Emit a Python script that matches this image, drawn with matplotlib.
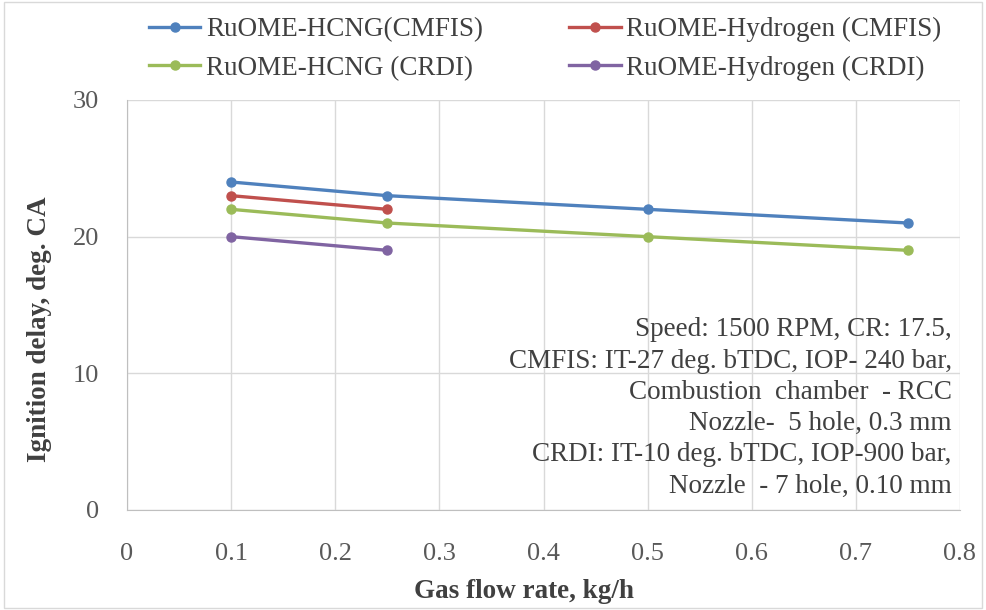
import numpy as np
import matplotlib.pyplot as plt
from matplotlib.patches import Rectangle

# data
x_long = [0.1, 0.25, 0.5, 0.75]
x_short = [0.1, 0.25]
hcng_cmfis = [24, 23, 22, 21]
hydrogen_cmfis = [23, 22]
hcng_crdi = [22, 21, 20, 19]
hydrogen_crdi = [20, 19]

labels = ['RuOME-HCNG(CMFIS)', 'RuOME-Hydrogen (CMFIS)',
          'RuOME-HCNG (CRDI)', 'RuOME-Hydrogen (CRDI)']
colors = ['#4F81BD', '#C0504D', '#9BBB59', '#8064A2']

note = ("Speed: 1500 RPM, CR: 17.5,\n"
        "CMFIS: IT-27 deg. bTDC, IOP- 240 bar,\n"
        "Combustion  chamber  - RCC\n"
        "Nozzle-  5 hole, 0.3 mm\n"
        "CRDI: IT-10 deg. bTDC, IOP-900 bar,\n"
        "Nozzle  - 7 hole, 0.10 mm")

plt.rcParams['font.family'] = ['Liberation Serif', 'DejaVu Serif']

fig = plt.figure(figsize=(9.86, 6.10), dpi=100)
ax = fig.add_axes([127/986, 1 - 510/610, (960 - 127)/986, (510 - 100)/610])

fig.patches.append(Rectangle((0.004, 0.004), 0.992, 0.992, transform=fig.transFigure,
                             fill=False, edgecolor='#D9D9D9', lw=1))

series = [(x_long, hcng_cmfis), (x_short, hydrogen_cmfis),
          (x_long, hcng_crdi), (x_short, hydrogen_crdi)]
handles = []
for (xs, ys), lab, c in zip(series, labels, colors):
    h, = ax.plot(xs, ys, color=c, lw=2.4, marker='o', ms=6.5, label=lab, zorder=3)
    handles.append(h)

ax.set_xlim(0, 0.8)
ax.set_ylim(0, 30)
ax.set_xticks(np.arange(0, 0.81, 0.1))
ax.set_xticklabels(['0', '0.1', '0.2', '0.3', '0.4', '0.5', '0.6', '0.7', '0.8'])
ax.set_yticks([0, 10, 20, 30])
ax.grid(True, color='#D9D9D9', lw=1)
ax.set_axisbelow(True)
for s in ['top', 'right']:
    ax.spines[s].set_visible(False)
for s in ['left', 'bottom']:
    ax.spines[s].set_color('#BFBFBF')
ax.tick_params(length=0, labelsize=19, colors='#595959')
ax.tick_params(axis='x', pad=24)
ax.tick_params(axis='y', pad=20)

ax.set_xlabel('Gas flow rate, kg/h', fontsize=19.5, fontweight='bold', color='#404040')
ax.set_ylabel('Ignition delay, deg. CA', fontsize=19.5, fontweight='bold', color='#404040')
ax.xaxis.set_label_coords(0.477, -0.168)
ax.yaxis.set_label_coords(-0.09, 0.44)

ax.text(0.99, 0.47, note, transform=ax.transAxes, ha='right', va='top',
        fontsize=19.5, color='#404040', linespacing=1.33, multialignment='right')

# matplotlib fills legend columns first, so order handles to match row layout
order = [0, 2, 1, 3]
fig.legend(handles=[handles[i] for i in order], labels=[labels[i] for i in order],
           loc='center', bbox_to_anchor=(0.553, 0.9197), ncol=2,
           frameon=False, fontsize=19.5, handlelength=1.9, columnspacing=3.2,
           labelspacing=0.5, handletextpad=0.2, labelcolor='#404040')

fig.savefig('out.png', dpi=100)
